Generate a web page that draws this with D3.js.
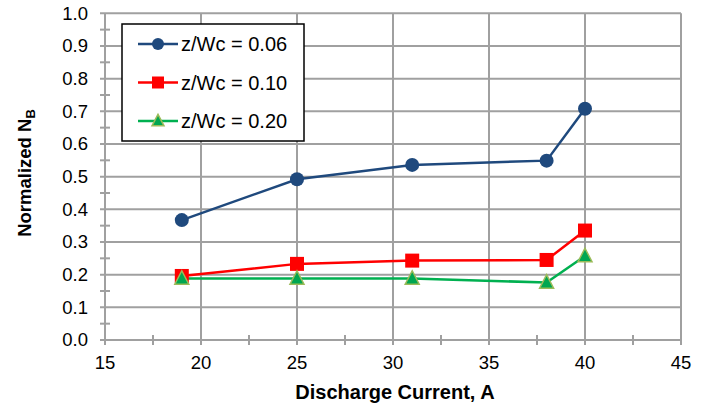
<!DOCTYPE html>
<html><head><meta charset="utf-8">
<script src="https://cdn.jsdelivr.net/npm/d3@7"></script>
<style>body{margin:0;background:#fff}svg{display:block}text{font-family:"Liberation Sans",Arial,sans-serif}</style>
</head><body>
<svg id="c" width="706" height="407"></svg>
<script>
const current = [19, 25, 31, 38, 40];
const nb006 = [0.367, 0.492, 0.536, 0.549, 0.708];
const nb010 = [0.196, 0.233, 0.243, 0.245, 0.335];
const nb020 = [0.188, 0.188, 0.188, 0.176, 0.257];
const seriesNames = ["z/Wc = 0.06", "z/Wc = 0.10", "z/Wc = 0.20"];
const xTicks = [15, 20, 25, 30, 35, 40, 45];
const yTicks = [0, 0.1, 0.2, 0.3, 0.4, 0.5, 0.6, 0.7, 0.8, 0.9, 1.0];

const svg = d3.select("#c");
const x = d3.scaleLinear().domain([15, 45]).range([105, 681]);
const y = d3.scaleLinear().domain([0, 1]).range([340, 13.3]);
const grid = "#a0a0a0";

// gridlines
svg.append("g").selectAll("line").data(yTicks).join("line")
  .attr("x1", 100).attr("x2", 681).attr("y1", d => y(d)).attr("y2", d => y(d))
  .attr("stroke", grid).attr("stroke-width", 2);
svg.append("g").selectAll("line").data(xTicks).join("line")
  .attr("x1", d => x(d)).attr("x2", d => x(d)).attr("y1", 13.3).attr("y2", 345)
  .attr("stroke", grid).attr("stroke-width", 2);
// minor ticks
const yMinor = d3.range(0.05, 1, 0.1);
svg.append("g").selectAll("line").data(yMinor).join("line")
  .attr("x1", 100).attr("x2", 110).attr("y1", d => y(d)).attr("y2", d => y(d))
  .attr("stroke", grid).attr("stroke-width", 2);
const xMinor = d3.range(17.5, 45, 5);
svg.append("g").selectAll("line").data(xMinor).join("line")
  .attr("x1", d => x(d)).attr("x2", d => x(d)).attr("y1", 335).attr("y2", 345)
  .attr("stroke", grid).attr("stroke-width", 2);

// tick labels
svg.append("g").selectAll("text").data(yTicks).join("text")
  .attr("x", 88).attr("y", d => y(d)).attr("dy", "0.35em").attr("text-anchor", "end")
  .attr("font-size", 18.5).attr("fill", "#000").text(d => d3.format(".1f")(d));
svg.append("g").selectAll("text").data(xTicks).join("text")
  .attr("x", d => x(d)).attr("y", 363).attr("dy", "0.35em").attr("text-anchor", "middle")
  .attr("font-size", 18.5).attr("fill", "#000").text(d => d);

// axis titles
svg.append("text").attr("x", 395).attr("y", 392).attr("dy", "0.35em").attr("text-anchor", "middle")
  .attr("font-size", 20).attr("font-weight", "bold").text("Discharge Current, A");
const yt = svg.append("text").attr("transform", "translate(25,173) rotate(-90)")
  .attr("text-anchor", "middle").attr("dy", "0.35em").attr("font-size", 18.5).attr("font-weight", "bold");
yt.append("tspan").text("Normalized N");
yt.append("tspan").attr("font-size", 13).attr("dy", "0.3em").text("B");

const series = [
  {name: seriesNames[0], vals: nb006, color: "#1F497D", shape: "circle"},
  {name: seriesNames[1], vals: nb010, color: "#FF0000", shape: "square"},
  {name: seriesNames[2], vals: nb020, color: "#00B050", shape: "triangle"}
];
const line = d3.line().x(d => x(d[0])).y(d => y(d[1]));

function marker(g, shape, color, cx, cy, s) {
  if (shape === "circle") {
    g.append("circle").attr("cx", cx).attr("cy", cy).attr("r", s/2).attr("fill", color);
  } else if (shape === "square") {
    g.append("rect").attr("x", cx - s/2).attr("y", cy - s/2).attr("width", s).attr("height", s).attr("fill", color);
  } else {
    const h = s * 0.9;
    g.append("path").attr("d", `M${cx},${cy - h*0.62}L${cx + s/2},${cy + h*0.45}L${cx - s/2},${cy + h*0.45}Z`)
      .attr("fill", "#00A651").attr("stroke", "#9BBB59").attr("stroke-width", 1.5);
  }
}

series.forEach(s => {
  const pts = current.map((c, i) => [c, s.vals[i]]);
  svg.append("path").datum(pts).attr("d", line).attr("fill", "none")
    .attr("stroke", s.color).attr("stroke-width", 2.5);
});
series.forEach(s => {
  const g = svg.append("g");
  current.forEach((c, i) => marker(g, s.shape, s.color, x(c), y(s.vals[i]), 14));
});

// legend
const lg = svg.append("g");
lg.append("rect").attr("x", 122).attr("y", 24).attr("width", 182).attr("height", 117)
  .attr("fill", "#fff").attr("stroke", "#000").attr("stroke-width", 1.5);
series.forEach((s, i) => {
  const cy = 44 + i * 38.5;
  lg.append("line").attr("x1", 138).attr("x2", 178).attr("y1", cy).attr("y2", cy)
    .attr("stroke", s.color).attr("stroke-width", 2.5);
  marker(lg, s.shape, s.color, 158, cy, 12);
  lg.append("text").attr("x", 181).attr("y", cy).attr("dy", "0.35em").attr("font-size", 20).text(s.name);
});
</script>
</body></html>
